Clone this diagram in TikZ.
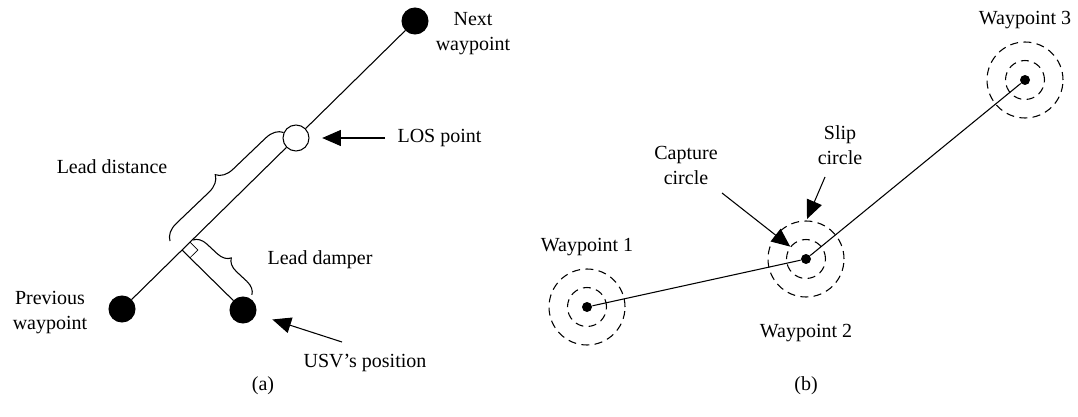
\documentclass[tikz,border=0pt]{standalone}
\usepackage{fontspec}
\setmainfont{Liberation Serif}
\usetikzlibrary{arrows.meta,decorations.pathreplacing,calc}
\begin{document}
\begin{tikzpicture}[x=0.75pt,y=-0.75pt,
  font=\fontsize{15}{18.75}\selectfont,
  line width=0.8pt,
  bigdot/.style={circle,fill=black,draw=black,inner sep=0pt,minimum size=19.5pt},
  opendot/.style={circle,fill=white,draw=black,inner sep=0pt,minimum size=19.5pt},
  smalldot/.style={circle,fill=black,inner sep=0pt,minimum size=7.5pt},
  ring/.style={circle,draw=black,dash pattern=on 6pt off 4pt,inner sep=0pt},
  inring/.style={ring,minimum size=29.25pt},
  outring/.style={ring,minimum size=57pt},
  arr/.style={-{Triangle[length=14pt,width=12pt]}},
  lbl/.style={inner sep=0pt,align=center},
  bracedeco/.style={decorate,decoration={brace,amplitude=#1}}
]
\useasboundingbox (0,0) rectangle (1078,417);

% ---------- panel (a) ----------
\node[bigdot] (next) at (415,21) {};
\node[opendot] (los) at (296,138) {};
\node[bigdot] (prev) at (122,309) {};
\node[bigdot] (usv) at (243,310) {};
\coordinate (foot) at (182,250);

\draw (prev) -- (los);
\draw (los) -- (next);
\draw (foot) -- (usv);

% right angle mark
\coordinate (ra1) at ($(foot)!0.07!(los)$);
\coordinate (ra2) at ($(foot)!0.13!(usv)$);
\coordinate (ra3) at ($(ra1)+(ra2)-(foot)$);
\draw[line width=0.5pt] (ra1) -- (ra3) -- (ra2);

% braces
\coordinate (bd1) at (170,241);
\coordinate (bd2) at (284,132);
\draw[bracedeco=12.5pt] (bd1) -- (bd2);
\coordinate (bm1) at (193,240);
\coordinate (bm2) at (252,295);
\draw[bracedeco=9.75pt] (bm1) -- (bm2);

% labels
\node[lbl] (nexttxt) at (473,34) {Next\\waypoint};
\node[lbl,anchor=west] (lostxt) at (397,138) {LOS point};
\node[lbl] (leaddist) at (112,167) {Lead distance};
\node[lbl] (leaddamp) at (320,260) {Lead damper};
\node[lbl] (prevtxt) at (50,313) {Previous\\waypoint};
\node[lbl] (usvtxt) at (365,363) {USV’s position};
\node[lbl] (capa) at (263,386) {(a)};

% arrows
\coordinate (losA) at (385,138);
\draw[arr,shorten >=9.5pt] (losA) -- (los);
\coordinate (usvA) at (342,342);
\draw[arr,shorten >=13pt] (usvA) -- (usv);

% ---------- panel (b) ----------
\node[smalldot] (wp1) at (587,307) {};
\node[smalldot] (wp2) at (806,259) {};
\node[smalldot] (wp3) at (1025,80) {};
\node[inring] (wp1in) at (wp1) {};
\node[outring] (wp1out) at (wp1) {};
\node[inring] (wp2in) at (wp2) {};
\node[outring] (wp2out) at (wp2) {};
\node[inring] (wp3in) at (wp3) {};
\node[outring] (wp3out) at (wp3) {};

\draw (wp1) -- (wp2);
\draw (wp2) -- (wp3);

\node[lbl] (wp1txt) at (587,247) {Waypoint 1};
\node[lbl] (wp2txt) at (806,333) {Waypoint 2};
\node[lbl] (wp3txt) at (1025,20) {Waypoint 3};
\node[lbl] (captxt) at (686,165) {Capture\\circle};
\node[lbl] (sliptxt) at (840,145) {Slip\\circle};
\node[lbl] (capb) at (806,386) {(b)};

\coordinate (capA) at (722,193);
\draw[arr] (capA) -- (wp2in);
\coordinate (slipA) at (825,177);
\coordinate (slipB) at (807,219);
\draw[arr] (slipA) -- (slipB);
\end{tikzpicture}
\end{document}
